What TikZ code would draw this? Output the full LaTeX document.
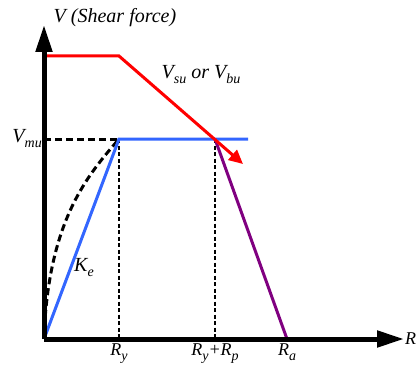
\documentclass[tikz,border=0pt]{standalone}
\usepackage{fontspec}
\newfontfamily\tnr{Liberation Serif}
\usetikzlibrary{calc,arrows.meta,positioning}
\definecolor{shearc}{HTML}{FF0000}
\definecolor{bilinc}{HTML}{3366FF}
\definecolor{softc}{HTML}{800080}
\newcommand{\sbs}[1]{\raisebox{-0.25em}{\fontsize{14}{14}\selectfont #1}}
\tikzset{
  axis/.style={-{Triangle[length=27pt,width=16pt]},line width=5pt,black},
  capline/.style={shearc,line width=3pt},
  bil/.style={bilinc,line width=3pt},
  guide/.style={black,line width=2pt,dash pattern=on 4pt off 2.5pt},
  lab/.style={font=\tnr\itshape\fontsize{20}{22}\selectfont,inner sep=1pt},
  rlab/.style={font=\tnr\itshape\fontsize{18}{20}\selectfont,inner sep=1pt}
}
\begin{document}
\begin{tikzpicture}[x=1pt,y=1pt]
\useasboundingbox (0,0) rectangle (419,370);
% points of the curve
\coordinate (O) at (44,31);
\coordinate (ytop) at (44,345);
\coordinate (xend) at (404,31);
\coordinate (cs) at (44,314);
\coordinate (ck) at (119,314);
\coordinate (ctip) at (243,206);
\coordinate (Y) at (119,231);
\coordinate (P) at (215,231);
\coordinate (bend) at (248,231);
\coordinate (A) at (287,31);
\coordinate (vm) at (44,231);
% guides
\draw[black,line width=3pt,dash pattern=on 7pt off 4pt] (vm) -- (Y);
\draw[black,line width=3pt,dash pattern=on 7pt off 4pt] (O) .. controls (48,150) and (88,195) .. (Y);
\draw[guide] (Y) -- (Y|-O);
\draw[guide] (P) -- (P|-O);
% bilinear and degrading branch
\draw[bil] (O) -- (Y) -- (bend);
\draw[softc,line width=3pt] (P) -- (A);
% capacity line
\draw[capline,-{Triangle[length=14pt,width=13pt]}] (cs) -- (ck) -- (ctip);
% axes
\draw[axis] (O) -- (ytop);
\draw[axis] (O) -- (xend);
% labels
\node[lab] (vt) at (115,352) {V (Shear force)};
\node[lab] (vsu) at (201,295) {V\sbs{su} or V\sbs{bu}};
\node[lab,left=1pt of vm] (vmu) {V\sbs{mu}};
\node[lab] (ke) at (84,102) {K\sbs{e}};
\node[rlab,below=4pt of Y|-O] (ry) {R\sbs{y}};
\node[rlab,below=4pt of P|-O] (rp) {R\sbs{y}+R\sbs{p}};
\node[rlab,below=4pt of A] (ra) {R\sbs{a}};
\node[rlab,right=0pt of xend] (rr) {R};
\end{tikzpicture}
\end{document}
